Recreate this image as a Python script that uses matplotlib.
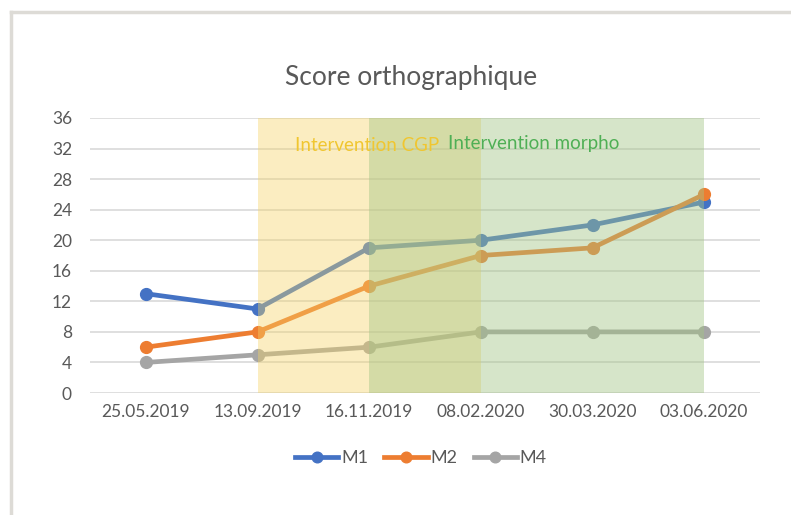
import numpy as np
import matplotlib
matplotlib.use('Agg')
import matplotlib.pyplot as plt
from matplotlib.lines import Line2D

plt.rcParams['font.family'] = ['Lato', 'DejaVu Sans']

# data
dates = ['25.05.2019', '13.09.2019', '16.11.2019', '08.02.2020',
         '30.03.2020', '03.06.2020']
m1 = [13, 11, 19, 20, 22, 25]
m2 = [6, 8, 14, 18, 19, 26]
m4 = [4, 5, 6, 8, 8, 8]
yticks = [0, 4, 8, 12, 16, 20, 24, 28, 32, 36]

fig = plt.figure(figsize=(7.91, 5.15), dpi=100)
fig.patch.set_facecolor('white')

# outer chart frame, only top and left edges are visible in the crop
fx, fy = 10.5 / 791, 1 - 11.5 / 515
fig.lines.append(Line2D([fx, 1.0], [fy, fy], transform=fig.transFigure,
                        color='#DDDBD6', lw=2.5))
fig.lines.append(Line2D([fx, fx], [0.0, fy], transform=fig.transFigure,
                        color='#DDDBD6', lw=2.5))

ax = fig.add_axes([90 / 791, 1 - 393 / 515, 670 / 791, 275 / 515])
x = np.arange(len(dates))

ax.plot(x, m1, color='#4472C4', lw=3.4, marker='o', ms=8.5, label='M1', zorder=3)
ax.plot(x, m2, color='#ED7D31', lw=3.4, marker='o', ms=8.5, label='M2', zorder=3)
ax.plot(x, m4, color='#A5A5A5', lw=3.4, marker='o', ms=8.5, label='M4', zorder=3)

# shaded intervention periods, drawn over the lines
ax.axvspan(1, 3, ymin=0, ymax=1, color='#F5D466', alpha=0.4, lw=0, zorder=4)
ax.axvspan(2, 5, ymin=0, ymax=1, color='#A3C585', alpha=0.44, lw=0, zorder=4)
ax.text(1.34, 32.4, 'Intervention CGP', color='#F0C630', fontsize=13.5,
        ha='left', va='center', zorder=5)
ax.text(2.71, 32.6, 'Intervention morpho', color='#4FAF55', fontsize=13.5,
        ha='left', va='center', zorder=5)

ax.set_xlim(-0.5, 5.5)
ax.set_ylim(0, 36)
ax.set_yticks(yticks)
ax.set_xticks(x)
ax.set_xticklabels(dates)
ax.grid(axis='y', color='#D9D9D9', lw=1.2, zorder=0)
ax.set_axisbelow(True)
for s in ax.spines.values():
    s.set_visible(False)
ax.tick_params(length=0, colors='#595959', labelsize=12.5, pad=8)
ax.tick_params(axis='y', pad=13)

fig.text(411 / 791, 1 - 77 / 515, 'Score orthographique', ha='center',
         va='center', fontsize=19, color='#595959')

handles, labels = ax.get_legend_handles_labels()
fig.legend(handles, labels, loc='center', bbox_to_anchor=(421 / 791, 1 - 458 / 515),
           ncol=3, frameon=False, fontsize=13, labelcolor='#595959',
           handlelength=2.4, handletextpad=0.15, columnspacing=0.9,
           markerscale=0.9)

fig.savefig('out.png', dpi=100)
